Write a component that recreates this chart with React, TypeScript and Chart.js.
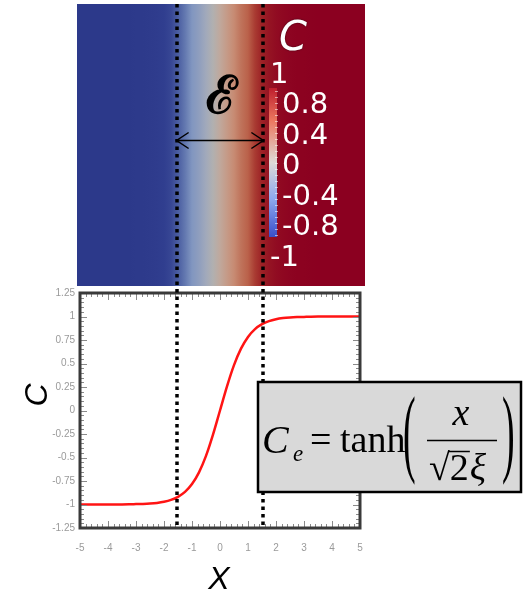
import React, { useEffect, useRef } from "react";
import { Chart, registerables } from "chart.js";

Chart.register(...registerables);

// Order-parameter profile across a diffuse interface
const xValues = [
  -5, -4.75, -4.5, -4.25, -4, -3.75, -3.5, -3.25, -3, -2.75, -2.5, -2.25, -2, -1.75, -1.5, -1.25, -1, -0.75, -0.5,
  -0.25, 0, 0.25, 0.5, 0.75, 1, 1.25, 1.5, 1.75, 2, 2.25, 2.5, 2.75, 3, 3.25, 3.5, 3.75, 4, 4.25, 4.5, 4.75, 5,
];
const cValues = [
  -1, -1, -1, -1, -1, -0.999, -0.999, -0.998, -0.996, -0.994, -0.99, -0.983, -0.971, -0.951, -0.918, -0.866, -0.783,
  -0.658, -0.483, -0.257, 0, 0.257, 0.483, 0.658, 0.783, 0.866, 0.918, 0.951, 0.971, 0.983, 0.99, 0.994, 0.996,
  0.998, 0.999, 0.999, 1, 1, 1, 1, 1,
];
const xTickLabels = ["-5", "-4", "-3", "-2", "-1", "0", "1", "2", "3", "4", "5"];
const yTickLabels = ["-1.25", "-1", "-0.75", "-0.5", "-0.25", "0", "0.25", "0.5", "0.75", "1", "1.25"];
const colorbarLabels = ["1", "0.8", "0.4", "0", "-0.4", "-0.8", "-1"];
// interface edges (width epsilon)
const interfaceEdges = [-1.55, 1.55];

// colour map used for the field image (value -> rgb)
const fieldMap: [number, number[]][] = [
  [-1, [44, 57, 138]],
  [-0.96, [50, 64, 145]],
  [-0.9, [85, 105, 168]],
  [-0.8, [127, 149, 192]],
  [-0.5, [160, 168, 188]],
  [-0.25, [178, 176, 176]],
  [0, [192, 168, 156]],
  [0.45, [201, 144, 120]],
  [0.8, [185, 95, 72]],
  [0.9, [160, 40, 38]],
  [1, [139, 0, 32]],
];

function fieldColor(v: number): string {
  if (v <= fieldMap[0][0]) return `rgb(${fieldMap[0][1].join(",")})`;
  for (let i = 1; i < fieldMap.length; i++) {
    const [v1, c1] = fieldMap[i];
    const [v0, c0] = fieldMap[i - 1];
    if (v <= v1) {
      const t = (v - v0) / (v1 - v0);
      const c = c0.map((a, k) => Math.round(a + (c1[k] - a) * t));
      return `rgb(${c.join(",")})`;
    }
  }
  return `rgb(${fieldMap[fieldMap.length - 1][1].join(",")})`;
}

const fieldPlugin = {
  id: "fieldImage",
  beforeDraw(chart: any) {
    const { ctx } = chart;
    const xs = chart.scales.x;
    ctx.save();
    ctx.fillStyle = "#ffffff";
    ctx.fillRect(0, 0, chart.width, chart.height);

    // field image above the plot, coloured by C(x)
    const left = xs.getPixelForValue(-5) - 3;
    const right = xs.getPixelForValue(5) + 5;
    const top = 4;
    const bottom = 286;
    const grad = ctx.createLinearGradient(left, 0, right, 0);
    xValues.forEach((x, i) => {
      const p = (xs.getPixelForValue(x) - left) / (right - left);
      grad.addColorStop(Math.min(1, Math.max(0, p)), fieldColor(cValues[i]));
    });
    grad.addColorStop(0, fieldColor(cValues[0]));
    grad.addColorStop(1, fieldColor(cValues[cValues.length - 1]));
    ctx.fillStyle = grad;
    ctx.fillRect(left, top, right - left, bottom - top);

    // colour bar
    const bx = 269, bw = 8, by0 = 88, by1 = 237;
    const cg = ctx.createLinearGradient(0, by0, 0, by1);
    cg.addColorStop(0, "rgb(190,30,45)");
    cg.addColorStop(0.22, "rgb(236,120,95)");
    cg.addColorStop(0.5, "rgb(222,218,214)");
    cg.addColorStop(0.75, "rgb(140,168,238)");
    cg.addColorStop(1, "rgb(58,78,200)");
    ctx.fillStyle = cg;
    ctx.fillRect(bx, by0, bw, by1 - by0);
    ctx.strokeStyle = "rgba(255,255,255,0.55)";
    ctx.lineWidth = 1;
    for (let y = by0 + 3; y < by1; y += 6) {
      ctx.beginPath();
      ctx.moveTo(bx + bw - 2, y + 0.5);
      ctx.lineTo(bx + bw + 1, y + 0.5);
      ctx.stroke();
    }

    ctx.fillStyle = "#ffffff";
    ctx.textBaseline = "middle";
    ctx.textAlign = "left";
    ctx.font = "29px 'DejaVu Sans'";
    colorbarLabels.forEach((lab, i) => {
      const y = 75 + i * 30.5;
      const x = i === 0 || i === colorbarLabels.length - 1 ? 270 : 282;
      ctx.fillText(lab, x, y);
    });

    // colour bar title
    ctx.shadowColor = "rgba(0,0,0,0.6)";
    ctx.shadowBlur = 2;
    ctx.font = "italic 40px 'DejaVu Sans'";
    ctx.textBaseline = "alphabetic";
    ctx.fillText("C", 279, 50);
    ctx.shadowBlur = 0;
    ctx.shadowColor = "transparent";

    // interface width symbol and arrow
    ctx.fillStyle = "#000000";
    ctx.textAlign = "center";
    ctx.font = "bold 52px 'DejaVu Serif'";
    ctx.fillText("\u2130", 221, 113);

    const ax0 = xs.getPixelForValue(interfaceEdges[0]);
    const ax1 = xs.getPixelForValue(interfaceEdges[1]);
    const ay = 140.5;
    ctx.strokeStyle = "#000000";
    ctx.lineWidth = 1.5;
    ctx.beginPath();
    ctx.moveTo(ax0, ay);
    ctx.lineTo(ax1, ay);
    ctx.moveTo(ax0 + 12, ay - 8);
    ctx.lineTo(ax0, ay);
    ctx.lineTo(ax0 + 12, ay + 8);
    ctx.moveTo(ax1 - 12, ay - 8);
    ctx.lineTo(ax1, ay);
    ctx.lineTo(ax1 - 12, ay + 8);
    ctx.stroke();
    ctx.restore();
  },
  afterDatasetsDraw(chart: any) {
    const { ctx, chartArea: a } = chart;
    const xs = chart.scales.x;
    const ys = chart.scales.y;
    ctx.save();
    ctx.strokeStyle = "#8a8a8a";
    ctx.lineWidth = 1;
    // x ticks on bottom and top, inside the frame
    for (let i = 0; i <= 50; i++) {
      const v = -5 + i * 0.2;
      const px = Math.round(xs.getPixelForValue(v)) + 0.5;
      const len = i % 5 === 0 ? 7 : 4;
      ctx.beginPath();
      ctx.moveTo(px, a.bottom);
      ctx.lineTo(px, a.bottom - len);
      ctx.moveTo(px, a.top);
      ctx.lineTo(px, a.top + len);
      ctx.stroke();
    }
    // y ticks on left and right
    for (let i = 0; i <= 50; i++) {
      const v = -1.25 + i * 0.05;
      const py = Math.round(ys.getPixelForValue(v)) + 0.5;
      const len = i % 5 === 0 ? 7 : 4;
      ctx.beginPath();
      ctx.moveTo(a.left, py);
      ctx.lineTo(a.left + len, py);
      ctx.moveTo(a.right, py);
      ctx.lineTo(a.right - len, py);
      ctx.stroke();
    }
    ctx.strokeStyle = "#3a3a3a";
    ctx.lineWidth = 3;
    ctx.strokeRect(a.left, a.top, a.right - a.left, a.bottom - a.top);
    ctx.restore();
  },
  afterDraw(chart: any) {
    const { ctx, chartArea: a } = chart;
    const xs = chart.scales.x;
    ctx.save();

    // interface boundaries
    ctx.strokeStyle = "#000000";
    ctx.lineWidth = 3.5;
    ctx.setLineDash([3.5, 4]);
    interfaceEdges.forEach((v) => {
      const px = Math.round(xs.getPixelForValue(v));
      ctx.beginPath();
      ctx.moveTo(px, 4);
      ctx.lineTo(px, a.bottom);
      ctx.stroke();
    });
    ctx.setLineDash([]);

    // axis titles
    ctx.fillStyle = "#000000";
    ctx.textAlign = "center";
    ctx.textBaseline = "middle";
    ctx.font = "italic 32px 'Liberation Sans'";
    ctx.fillText("X", 219, 580);
    ctx.save();
    ctx.translate(38, 395);
    ctx.rotate(-Math.PI / 2);
    ctx.fillText("C", 0, 0);
    ctx.restore();

    // equation box
    const bx = 258, by = 382, bw = 263, bh = 110;
    ctx.fillStyle = "#d9d9d9";
    ctx.fillRect(bx, by, bw, bh);
    ctx.strokeStyle = "#000000";
    ctx.lineWidth = 2.5;
    ctx.strokeRect(bx, by, bw, bh);

    ctx.fillStyle = "#000000";
    ctx.textAlign = "left";
    ctx.textBaseline = "alphabetic";
    ctx.font = "italic 40px 'Liberation Serif'";
    ctx.fillText("C", 262, 453);
    ctx.font = "italic 23px 'Liberation Serif'";
    ctx.fillText("e", 293, 461);
    ctx.font = "38px 'Liberation Serif'";
    ctx.fillText("=", 310, 452);
    ctx.fillText("tanh", 340, 452);

    // tall brackets
    ctx.save();
    ctx.translate(0, 439);
    ctx.scale(1, 2.55);
    ctx.font = "38px 'Liberation Serif'";
    ctx.textBaseline = "middle";
    ctx.fillText("(", 403, 0);
    ctx.fillText(")", 502, 0);
    ctx.restore();

    // fraction
    ctx.font = "italic 38px 'Liberation Serif'";
    ctx.textAlign = "center";
    ctx.fillText("x", 461, 425);
    ctx.lineWidth = 1.5;
    ctx.beginPath();
    ctx.moveTo(427, 440.5);
    ctx.lineTo(497, 440.5);
    ctx.stroke();
    ctx.textAlign = "left";
    ctx.font = "38px 'Liberation Serif'";
    ctx.fillText("\u221A", 429, 480);
    const rw = ctx.measureText("\u221A").width;
    ctx.fillText("2", 429 + rw, 480);
    const tw = ctx.measureText("2").width;
    ctx.lineWidth = 1.5;
    ctx.beginPath();
    ctx.moveTo(429 + rw - 1, 451.5);
    ctx.lineTo(429 + rw + tw + 1, 451.5);
    ctx.stroke();
    ctx.font = "italic 38px 'Liberation Serif'";
    ctx.fillText("\u03BE", 429 + rw + tw + 1, 480);

    ctx.restore();
  },
};

export default function App() {
  const canvasRef = useRef<HTMLCanvasElement | null>(null);

  useEffect(() => {
    const canvas = canvasRef.current;
    if (!canvas) return;
    const chart = new Chart(canvas, {
      type: "line",
      data: {
        datasets: [
          {
            data: xValues.map((x, i) => ({ x, y: cValues[i] })),
            borderColor: "#ff1414",
            borderWidth: 2.5,
            pointRadius: 0,
            cubicInterpolationMode: "monotone",
            fill: false,
          },
        ],
      },
      options: {
        animation: false,
        responsive: false,
        maintainAspectRatio: false,
        layout: { padding: { left: 0, top: 293, right: 163, bottom: 0 } },
        plugins: { legend: { display: false }, tooltip: { enabled: false }, title: { display: false } },
        scales: {
          x: {
            type: "linear",
            min: -5,
            max: 5,
            grid: { display: false, drawTicks: false },
            border: { display: false },
            afterFit: (s: any) => {
              s.height = 72;
            },
            ticks: {
              stepSize: 1,
              padding: 14,
              color: "#9a9a9a",
              font: { size: 10, family: "'Liberation Sans'" },
              maxRotation: 0,
              callback: (v: any) => xTickLabels[Math.round(Number(v) + 5)] ?? "",
            },
          },
          y: {
            type: "linear",
            min: -1.25,
            max: 1.25,
            grid: { display: false, drawTicks: false },
            border: { display: false },
            afterFit: (s: any) => {
              s.width = 80;
            },
            ticks: {
              stepSize: 0.25,
              padding: 5,
              color: "#9a9a9a",
              font: { size: 10, family: "'Liberation Sans'" },
              callback: (v: any) => yTickLabels[Math.round((Number(v) + 1.25) / 0.25)] ?? "",
            },
          },
        },
      },
      plugins: [fieldPlugin],
    });
    return () => chart.destroy();
  }, []);

  return (
    <div style={{ position: "absolute", left: 0, top: 0, width: 523, height: 600 }}>
      <canvas ref={canvasRef} width={523} height={600} style={{ width: 523, height: 600, display: "block" }} />
    </div>
  );
}
